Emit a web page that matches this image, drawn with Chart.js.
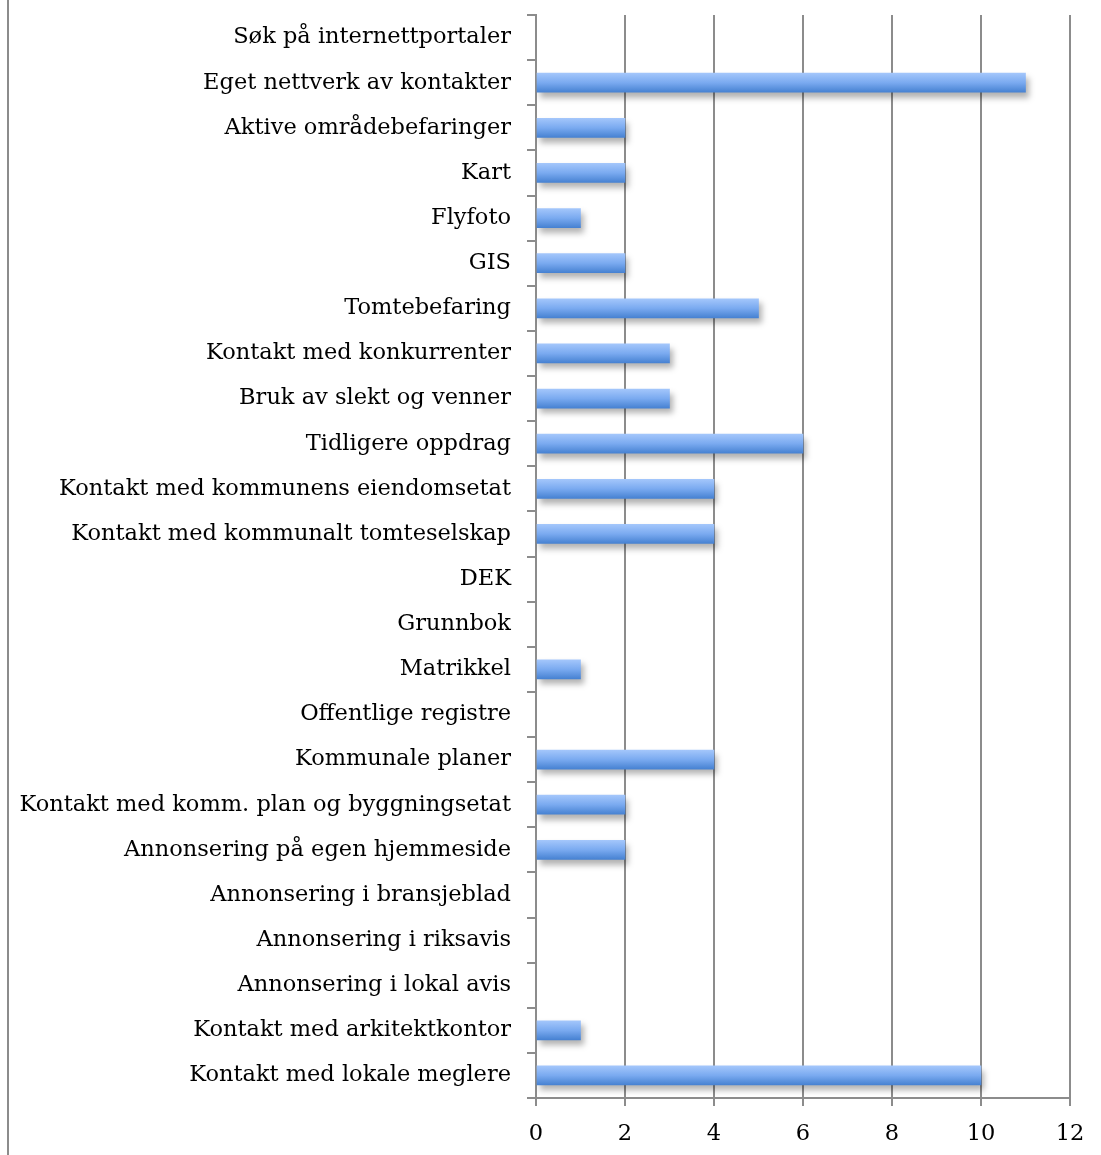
<!DOCTYPE html>
<html lang="no">
<head>
<meta charset="utf-8">
<title>Kilder til tomtesøk</title>
<script src="https://cdn.jsdelivr.net/npm/chart.js@4/dist/chart.umd.min.js"></script>
<style>
  html, body { margin: 0; padding: 0; background: #fff; }
  #ramme { position: relative; width: 1101px; height: 1155px; }
  #kant { position: absolute; left: 7px; top: 0; width: 2px; height: 1155px; background: #8c8c8c; }
  #graf { position: absolute; left: 0; top: 0; }
</style>
</head>
<body>
<div id="ramme">
  <div id="kant"></div>
  <canvas id="graf" width="1101" height="1155"></canvas>
</div>
<script>
// Kategorier, ovenfra og ned
const kilder = [
  'Søk på internettportaler',
  'Eget nettverk av kontakter',
  'Aktive områdebefaringer',
  'Kart',
  'Flyfoto',
  'GIS',
  'Tomtebefaring',
  'Kontakt med konkurrenter',
  'Bruk av slekt og venner',
  'Tidligere oppdrag',
  'Kontakt med kommunens eiendomsetat',
  'Kontakt med kommunalt tomteselskap',
  'DEK',
  'Grunnbok',
  'Matrikkel',
  'Offentlige registre',
  'Kommunale planer',
  'Kontakt med komm. plan og byggningsetat',
  'Annonsering på egen hjemmeside',
  'Annonsering i bransjeblad',
  'Annonsering i riksavis',
  'Annonsering i lokal avis',
  'Kontakt med arkitektkontor',
  'Kontakt med lokale meglere'
];

// Antall svar per kilde
const antall = [0, 11, 2, 2, 1, 2, 5, 3, 3, 6, 4, 4, 0, 0, 1, 0, 4, 2, 2, 0, 0, 0, 1, 10];

// Verdiakse
const aksMin = 0;
const aksMax = 12;
const aksSteg = 2;

const gra = '#8c8c8c';
const tykkelse = 19;
const skrift = { family: 'DejaVu Serif', size: 22.5 };

// Blå gradient per stolpe, lys øverst og mørkere nederst
function stolpeFarge(context) {
  const chart = context.chart;
  const y = chart.scales.y;
  if (context.raw === 0) return 'rgba(0,0,0,0)';
  if (!y || context.dataIndex === undefined) return '#6b9fe6';
  const midt = y.getPixelForValue(context.dataIndex);
  if (!isFinite(midt)) return '#6b9fe6';
  const g = chart.ctx.createLinearGradient(0, midt - tykkelse / 2, 0, midt + tykkelse / 2);
  g.addColorStop(0, '#a3c6fb');
  g.addColorStop(0.5, '#7aaaf0');
  g.addColorStop(1, '#4782d2');
  return g;
}

// Skygge under stolpene
const skygge = {
  id: 'skygge',
  beforeDatasetsDraw(chart) {
    const ctx = chart.ctx;
    ctx.save();
    ctx.shadowColor = 'rgba(0, 0, 0, 0.3)';
    ctx.shadowBlur = 6;
    ctx.shadowOffsetX = 3;
    ctx.shadowOffsetY = 5;
  },
  afterDatasetsDraw(chart) {
    chart.ctx.restore();
  }
};

const ctx = document.getElementById('graf').getContext('2d');
new Chart(ctx, {
  type: 'bar',
  data: {
    labels: kilder,
    datasets: [{
      data: antall,
      backgroundColor: stolpeFarge,
      borderWidth: 0,
      barThickness: tykkelse
    }]
  },
  options: {
    indexAxis: 'y',
    responsive: false,
    animation: false,
    layout: { padding: { top: 15, right: 31, left: 0, bottom: 0 } },
    plugins: {
      legend: { display: false },
      tooltip: { enabled: false }
    },
    scales: {
      x: {
        min: aksMin,
        max: aksMax,
        ticks: {
          stepSize: aksSteg,
          color: '#000',
          padding: 15,
          font: skrift
        },
        grid: { color: gra, lineWidth: 2, tickLength: 8 },
        border: { color: gra, width: 2 },
        afterFit(scale) { scale.height = 57; }
      },
      y: {
        ticks: {
          color: '#000',
          padding: 16,
          font: skrift
        },
        grid: { drawOnChartArea: false, color: gra, lineWidth: 2, tickLength: 9, offset: true },
        border: { color: gra, width: 2 },
        afterFit(scale) {
          scale.width = 536;
          scale.paddingTop = 0;
          scale.paddingBottom = 0;
        }
      }
    }
  },
  plugins: [skygge]
});
</script>
</body>
</html>
